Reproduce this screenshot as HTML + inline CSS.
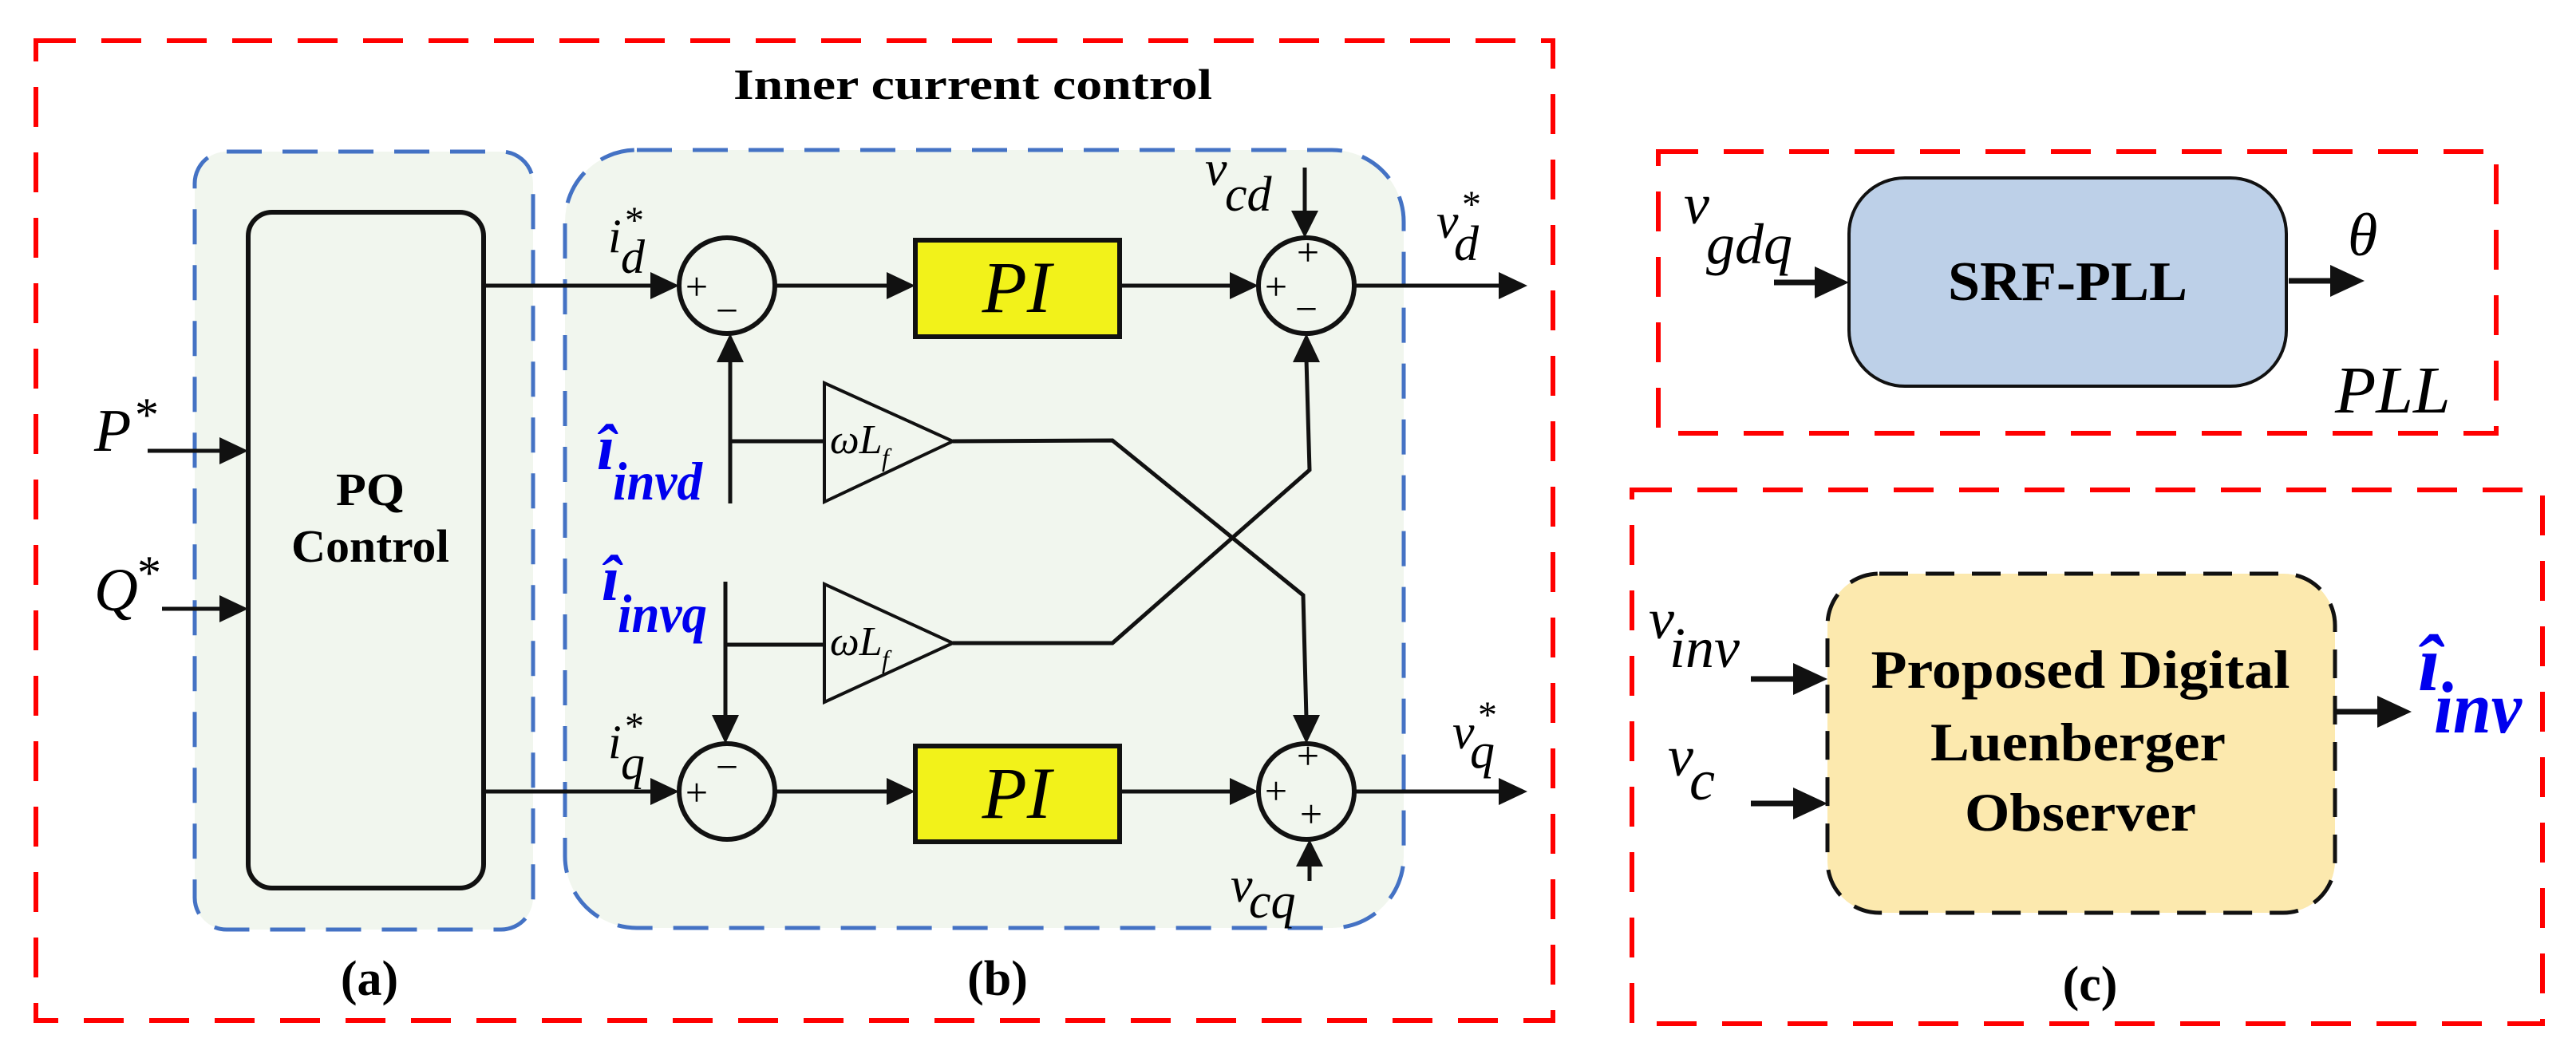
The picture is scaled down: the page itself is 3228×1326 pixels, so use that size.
<!DOCTYPE html>
<html><head><meta charset="utf-8"><style>
html,body{margin:0;padding:0;background:#fff;}
svg{display:block;}
text{font-family:"Liberation Serif","DejaVu Serif",serif;}
.it{font-style:italic;}
.b{font-weight:bold;}
</style></head><body>
<svg width="3228" height="1326" viewBox="0 0 3228 1326" xmlns="http://www.w3.org/2000/svg" font-family="Liberation Serif, serif">
<g fill="none" stroke="#ff0000" stroke-width="6" stroke-dasharray="50,32">
<rect x="45" y="51" width="1901" height="1228"/>
<rect x="2078" y="190" width="1050" height="353"/>
<rect x="2045" y="614" width="1141" height="669"/>
</g>
<text x="1219" y="124" font-size="54" class="b" text-anchor="middle" textLength="600" lengthAdjust="spacingAndGlyphs" font-family="Liberation Serif, serif">Inner current control</text>
<g fill="#f1f6ee" stroke="#4472c4" stroke-width="5" stroke-dasharray="44,26">
<rect x="244" y="190" width="424" height="975" rx="40"/>
<rect x="708" y="188" width="1051" height="975" rx="90"/>
</g>
<rect x="311" y="266" width="295" height="847" rx="30" fill="#f1f6ee" stroke="#111" stroke-width="6"/>
<text x="464" y="633" font-size="58" class="b" text-anchor="middle" font-family="Liberation Serif, serif" textLength="86" lengthAdjust="spacingAndGlyphs">PQ</text>
<text x="464" y="704" font-size="58" class="b" text-anchor="middle" font-family="Liberation Serif, serif" textLength="198" lengthAdjust="spacingAndGlyphs">Control</text>
<text x="463" y="1247" font-size="62" class="b" text-anchor="middle" font-family="Liberation Serif, serif">(a)</text>
<text x="1250" y="1247" font-size="62" class="b" text-anchor="middle" font-family="Liberation Serif, serif">(b)</text>
<text x="2619" y="1254" font-size="62" class="b" text-anchor="middle" font-family="Liberation Serif, serif">(c)</text>
<text x="118" y="565" font-size="76" class="it">P</text>
<text x="169" y="540" font-size="60">*</text>
<text x="118" y="765" font-size="76" class="it">Q</text>
<text x="172" y="738" font-size="60">*</text>
<g stroke="#111" stroke-width="5" fill="none">
<line x1="185" y1="565" x2="280" y2="565"/>
<line x1="203" y1="763" x2="280" y2="763"/>
<line x1="606" y1="358" x2="820" y2="358"/>
<line x1="606" y1="992" x2="820" y2="992"/>
<line x1="971" y1="358" x2="1115" y2="358"/>
<line x1="971" y1="992" x2="1115" y2="992"/>
<line x1="1403" y1="358" x2="1545" y2="358"/>
<line x1="1403" y1="992" x2="1545" y2="992"/>
<line x1="1697" y1="358" x2="1880" y2="358"/>
<line x1="1697" y1="992" x2="1880" y2="992"/>
<line x1="1635" y1="210" x2="1635" y2="270"/>
<line x1="1641" y1="1104" x2="1641" y2="1080"/>
<line x1="915" y1="631" x2="915" y2="450"/>
<line x1="915" y1="553" x2="1033" y2="553"/>
<line x1="909" y1="729" x2="909" y2="900"/>
<line x1="909" y1="808" x2="1033" y2="808"/>
<polyline points="1194,553 1394,552 1633,746 1637,900"/>
<polyline points="1194,806 1394,806 1641,589 1637,450"/>
<circle cx="911" cy="358" r="60" stroke-width="6"/>
<circle cx="1637" cy="358" r="60" stroke-width="6"/>
<circle cx="911" cy="992" r="60" stroke-width="6"/>
<circle cx="1637" cy="992" r="60" stroke-width="6"/>
<polygon points="1033,480 1033,629 1194,553" stroke-width="4"/>
<polygon points="1033,732 1033,880 1194,806" stroke-width="4"/>
</g>
<g fill="#111">
<polygon points="311,565 275,548 275,582"/>
<polygon points="311,763 275,746 275,780"/>
<polygon points="851,358 815,341 815,375"/>
<polygon points="851,992 815,975 815,1009"/>
<polygon points="1147,358 1111,341 1111,375"/>
<polygon points="1147,992 1111,975 1111,1009"/>
<polygon points="1577,358 1541,341 1541,375"/>
<polygon points="1577,992 1541,975 1541,1009"/>
<polygon points="1914,358 1878,341 1878,375"/>
<polygon points="1914,992 1878,975 1878,1009"/>
<polygon points="1635,298 1618,264 1652,264"/>
<polygon points="1641,1052 1624,1086 1658,1086"/>
<polygon points="915,418 898,454 932,454"/>
<polygon points="909,932 892,896 926,896"/>
<polygon points="1637,932 1620,896 1654,896"/>
<polygon points="1637,418 1620,454 1654,454"/>
</g>
<rect x="1147" y="301" width="256" height="121" fill="#f2f21a" stroke="#111" stroke-width="6"/>
<rect x="1147" y="935" width="256" height="120" fill="#f2f21a" stroke="#111" stroke-width="6"/>
<text x="1274" y="391" font-size="92" class="it" text-anchor="middle">PI</text>
<text x="1274" y="1025" font-size="92" class="it" text-anchor="middle">PI</text>
<g font-size="50" text-anchor="middle" font-family="Liberation Sans, sans-serif">
<text x="873" y="376">+</text><text x="911" y="406">−</text>
<text x="873" y="1010">+</text><text x="911" y="978">−</text>
<text x="1639" y="333">+</text><text x="1599" y="376">+</text><text x="1637" y="404">−</text>
<text x="1639" y="964">+</text><text x="1599" y="1008">+</text><text x="1643" y="1037">+</text>
</g>
<text x="1040" y="568" font-size="52" class="it">ωL</text><text x="1105" y="584" font-size="32" class="it">f</text>
<text x="1040" y="821" font-size="52" class="it">ωL</text><text x="1105" y="837" font-size="32" class="it">f</text>
<g class="it">
<text x="762" y="316" font-size="60">i</text><text x="778" y="342" font-size="60">d</text><text x="783" y="292" font-size="48" font-style="normal">*</text>
<text x="762" y="950" font-size="60">i</text><text x="778" y="976" font-size="60">q</text><text x="783" y="926" font-size="48" font-style="normal">*</text>
<text x="1510" y="232" font-size="62">v</text><text x="1535" y="264" font-size="62">cd</text>
<text x="1542" y="1130" font-size="62">v</text><text x="1565" y="1150" font-size="62">cq</text>
<text x="1800" y="298" font-size="62">v</text><text x="1822" y="326" font-size="62">d</text><text x="1832" y="272" font-size="48" font-style="normal">*</text>
<text x="1820" y="938" font-size="62">v</text><text x="1842" y="962" font-size="62">q</text><text x="1852" y="912" font-size="48" font-style="normal">*</text>
</g>
<g fill="#0000ee" class="it b">
<text x="748" y="588" font-size="80">î</text><text x="768" y="626" font-size="68" textLength="112" lengthAdjust="spacingAndGlyphs">invd</text>
<text x="754" y="752" font-size="80">î</text><text x="774" y="792" font-size="68" textLength="112" lengthAdjust="spacingAndGlyphs">invq</text>
</g>
<rect x="2317" y="223" width="548" height="261" rx="70" fill="#bdd0e8" stroke="#111" stroke-width="4"/>
<text x="2591" y="376" font-size="70" class="b" text-anchor="middle" textLength="300" lengthAdjust="spacingAndGlyphs">SRF-PLL</text>
<g stroke="#111" stroke-width="7"><line x1="2223" y1="354" x2="2285" y2="354"/><line x1="2868" y1="352" x2="2930" y2="352"/>
<line x1="2194" y1="851" x2="2255" y2="851"/><line x1="2194" y1="1007" x2="2255" y2="1007"/><line x1="2926" y1="892" x2="2990" y2="892"/></g>
<g fill="#111">
<polygon points="2317,354 2274,334 2274,374"/>
<polygon points="2963,352 2920,332 2920,372"/>
<polygon points="2290,851 2247,831 2247,871"/>
<polygon points="2290,1007 2247,987 2247,1027"/>
<polygon points="3022,892 2979,872 2979,912"/>
</g>
<g class="it">
<text x="2110" y="280" font-size="72">v</text><text x="2138" y="330" font-size="72">gdq</text>
<text x="2942" y="320" font-size="76">θ</text>
<text x="2926" y="517" font-size="84">PLL</text>
<text x="2066" y="800" font-size="72">v</text><text x="2092" y="836" font-size="72">inv</text>
<text x="2090" y="972" font-size="72">v</text><text x="2117" y="1002" font-size="72">c</text>
</g>
<rect x="2290" y="719" width="636" height="425" rx="65" fill="#fce9ae" stroke="#111" stroke-width="5" stroke-dasharray="36,22"/>
<g class="b" font-size="68" text-anchor="middle">
<text x="2607" y="862" textLength="525" lengthAdjust="spacingAndGlyphs">Proposed Digital</text>
<text x="2604" y="953" textLength="370" lengthAdjust="spacingAndGlyphs">Luenberger</text>
<text x="2607" y="1041" textLength="290" lengthAdjust="spacingAndGlyphs">Observer</text>
</g>
<g fill="#0000ee" class="it b">
<text x="3030" y="865" font-size="100">î</text><text x="3050" y="918" font-size="92" textLength="110" lengthAdjust="spacingAndGlyphs">inv</text>
</g>
</svg>
</body></html>
